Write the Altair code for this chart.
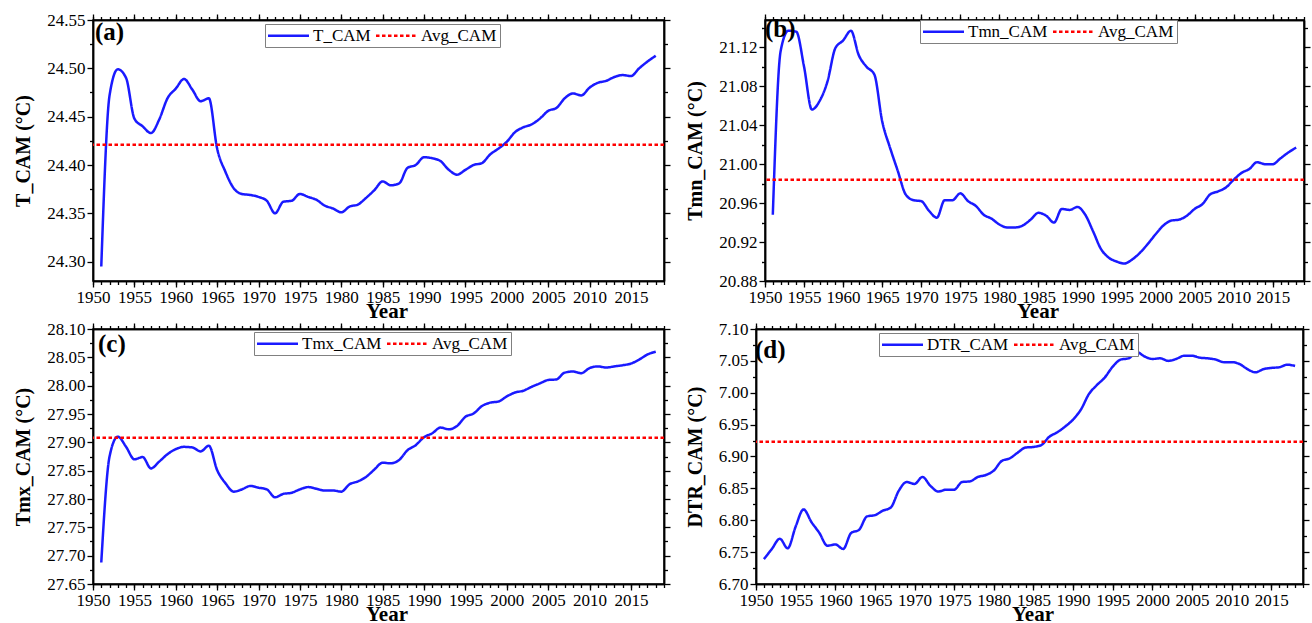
import altair as alt
import pandas as pd

years = list(range(1951, 2019))

t_cam = [24.295, 24.472, 24.499, 24.490, 24.448, 24.440, 24.433, 24.447, 24.469, 24.479,
         24.489, 24.478, 24.466, 24.469, 24.417, 24.393, 24.376, 24.370, 24.369, 24.367,
         24.363, 24.350, 24.362, 24.363, 24.370, 24.367, 24.364, 24.358, 24.355, 24.351,
         24.357, 24.359, 24.366, 24.374, 24.383, 24.379, 24.381, 24.397, 24.400, 24.408,
         24.407, 24.404, 24.395, 24.390, 24.395, 24.400, 24.402, 24.411, 24.417, 24.424,
         24.434, 24.439, 24.442, 24.448, 24.456, 24.459, 24.469, 24.474, 24.472, 24.480,
         24.485, 24.487, 24.491, 24.493, 24.492, 24.500, 24.507, 24.513]

tmn_cam = [20.948, 21.116, 21.137, 21.136, 21.100, 21.056, 21.065, 21.085, 21.119, 21.127,
           21.137, 21.112, 21.100, 21.092, 21.044, 21.017, 20.993, 20.969, 20.963, 20.962,
           20.952, 20.945, 20.963, 20.963, 20.970, 20.962, 20.957, 20.948, 20.944, 20.938,
           20.935, 20.935, 20.937, 20.943, 20.950, 20.947, 20.940, 20.954, 20.953, 20.956,
           20.948, 20.931, 20.913, 20.904, 20.900, 20.898, 20.902, 20.909, 20.918, 20.928,
           20.937, 20.942, 20.943, 20.947, 20.954, 20.959, 20.969, 20.972, 20.976, 20.984,
           20.991, 20.995, 21.002, 21.000, 21.000, 21.006, 21.012, 21.017]

tmx_cam = [27.688, 27.875, 27.910, 27.892, 27.870, 27.874, 27.854, 27.866, 27.879, 27.888,
           27.892, 27.891, 27.884, 27.894, 27.851, 27.828, 27.813, 27.817, 27.823, 27.820,
           27.817, 27.803, 27.809, 27.811, 27.817, 27.821, 27.818, 27.815, 27.815, 27.813,
           27.826, 27.831, 27.839, 27.852, 27.864, 27.863, 27.869, 27.886, 27.895, 27.909,
           27.916, 27.926, 27.923, 27.929, 27.945, 27.951, 27.964, 27.970, 27.972, 27.981,
           27.988, 27.991, 27.998, 28.004, 28.010, 28.011, 28.023, 28.025, 28.022, 28.031,
           28.034, 28.032, 28.034, 28.036, 28.039, 28.046, 28.055, 28.060]

dtr_cam = [6.739, 6.755, 6.771, 6.756, 6.790, 6.817, 6.797, 6.780, 6.760, 6.762,
           6.755, 6.780, 6.785, 6.806, 6.808, 6.815, 6.820, 6.846, 6.860, 6.857,
           6.868, 6.854, 6.845, 6.848, 6.848, 6.860, 6.861, 6.868, 6.871, 6.878,
           6.893, 6.897, 6.906, 6.914, 6.915, 6.918, 6.931, 6.938, 6.947, 6.958,
           6.974, 6.998, 7.012, 7.024, 7.041, 7.052, 7.054, 7.064, 7.057, 7.053,
           7.054, 7.050, 7.053, 7.058, 7.058, 7.055, 7.054, 7.052, 7.048, 7.048,
           7.045, 7.037, 7.032, 7.037, 7.039, 7.040, 7.044, 7.042]

avg_t, avg_tmn, avg_tmx, avg_dtr = 24.421, 20.984, 27.908, 6.923

x_major = list(range(1950, 2016, 5))
x_minor = list(range(1950, 2020))

ticks_a_major = [24.30, 24.35, 24.40, 24.45, 24.50, 24.55]
ticks_a_minor = [24.325, 24.375, 24.425, 24.475, 24.525]
ticks_b_major = [20.88, 20.92, 20.96, 21.00, 21.04, 21.08, 21.12]
ticks_b_minor = [20.90, 20.94, 20.98, 21.02, 21.06, 21.10, 21.14]
ticks_c_major = [27.65, 27.70, 27.75, 27.80, 27.85, 27.90, 27.95, 28.00, 28.05, 28.10]
ticks_c_minor = [27.675, 27.725, 27.775, 27.825, 27.875, 27.925, 27.975, 28.025, 28.075]
ticks_d_major = [6.70, 6.75, 6.80, 6.85, 6.90, 6.95, 7.00, 7.05, 7.10]
ticks_d_minor = [6.725, 6.775, 6.825, 6.875, 6.925, 6.975, 7.025, 7.075]

FONT = "Liberation Serif"
BLUE = "#1a1aff"
RED = "#ff0000"


def x_axis(orient, vals, size, labels, title_x=None):
    kw = dict(orient=orient, values=vals, tickSize=size, tickWidth=1.3, tickColor="black",
              labels=labels, domain=True, domainColor="black", domainWidth=1.5, grid=False)
    if labels:
        kw.update(format="d", labelFont=FONT, labelFontSize=17, labelColor="black",
                  labelPadding=2, labelOverlap=False, labelFlush=False,
                  titleFont=FONT, titleFontSize=21, titleFontWeight="bold",
                  titleColor="black", titlePadding=-5, titleX=title_x)
    return alt.Axis(**kw)


def y_axis(orient, vals, size, labels):
    kw = dict(orient=orient, values=vals, tickSize=size, tickWidth=1.3, tickColor="black",
              labels=labels, domain=True, domainColor="black", domainWidth=1.5, grid=False)
    if labels:
        kw.update(format=".2f", labelFont=FONT, labelFontSize=17, labelColor="black",
                  labelPadding=2, labelOverlap=False, labelFlush=False,
                  titleFont=FONT, titleFontSize=20, titleFontWeight="bold",
                  titleColor="black", titlePadding=13)
    return alt.Axis(**kw)


def panel(vals, avg, name, ytitle, ydom, ymaj, ymin, letter, w, h, legx, legy,
          lx, ly, title_dx):
    df = pd.DataFrame({"Year": years, "v": vals, "series": name})
    avg_df = pd.DataFrame({"v": [avg], "series": ["Avg_CAM"]})
    xs = alt.Scale(domain=[1950, 2019], nice=False, zero=False)
    ys = alt.Scale(domain=ydom, nice=False, zero=False)
    leg = alt.Legend(title=None, orient="none", legendX=legx, legendY=legy,
                     direction="horizontal", symbolType="M-4,0H4", symbolSize=105,
                     symbolOffset=12, symbolStrokeWidth=2.5, labelFont=FONT, labelFontSize=17,
                     labelColor="black", labelOffset=16, columnPadding=0, padding=3,
                     strokeColor="#808080", fillColor="white", labelLimit=200)
    color = alt.Color("series:N", scale=alt.Scale(domain=[name, "Avg_CAM"], range=[BLUE, RED]),
                      legend=leg)
    dash = alt.StrokeDash("series:N",
                          scale=alt.Scale(domain=[name, "Avg_CAM"], range=[[1, 0], [3.5, 2.5]]),
                          legend=leg)
    base = alt.Chart(df)
    line = base.mark_line(interpolate="monotone", strokeWidth=2.5).encode(
        x=alt.X("Year:Q", scale=xs, axis=x_axis("bottom", x_major, 6, True, w / 2 + title_dx),
                title="Year"),
        y=alt.Y("v:Q", scale=ys, axis=y_axis("left", ymaj, 6, True), title=ytitle),
        color=color, strokeDash=dash)
    g1 = base.mark_line(strokeOpacity=0).encode(
        x=alt.X("Year:Q", scale=xs, axis=x_axis("bottom", x_minor, 3.5, False), title=None),
        y=alt.Y("v:Q", scale=ys, axis=y_axis("left", ymin, 3.5, False), title=None))
    g2 = base.mark_line(strokeOpacity=0).encode(
        x=alt.X("Year:Q", scale=xs, axis=x_axis("top", x_major, 6, False), title=None),
        y=alt.Y("v:Q", scale=ys, axis=y_axis("right", ymaj, 6, False), title=None))
    g3 = base.mark_line(strokeOpacity=0).encode(
        x=alt.X("Year:Q", scale=xs, axis=x_axis("top", x_minor, 3.5, False), title=None),
        y=alt.Y("v:Q", scale=ys, axis=y_axis("right", ymin, 3.5, False), title=None))
    rule = alt.Chart(avg_df).mark_rule(strokeWidth=2.5).encode(
        y=alt.Y("v:Q", scale=ys, axis=None), color=color, strokeDash=dash)
    txt = alt.Chart(pd.DataFrame({"t": [letter]})).mark_text(
        font=FONT, fontSize=25, fontWeight="bold", align="left", baseline="alphabetic",
        color="black").encode(x=alt.value(lx), y=alt.value(ly), text="t:N")
    return alt.layer(line, g1, g2, g3, rule, txt).resolve_axis(
        x="independent", y="independent").properties(width=w, height=h)


pa = panel(t_cam, avg_t, "T_CAM", "T_CAM (°C)", [24.28, 24.55], ticks_a_major, ticks_a_minor,
           "(a)", 571, 261, 172, 4, 2, 20, 8)
pb = panel(tmn_cam, avg_tmn, "Tmn_CAM", "Tmn_CAM (°C)", [20.88, 21.148], ticks_b_major,
           ticks_b_minor, "(b)", 539, 261, 155, 0, 0, 17, 3)
pc = panel(tmx_cam, avg_tmx, "Tmx_CAM", "Tmx_CAM (°C)", [27.65, 28.10], ticks_c_major,
           ticks_c_minor, "(c)", 571, 255, 161, 3, 5, 23, 8)
pd_ = panel(dtr_cam, avg_dtr, "DTR_CAM", "DTR_CAM (°C)", [6.70, 7.10], ticks_d_major,
            ticks_d_minor, "(d)", 547, 255, 123, 4, -1, 29, 3)

row1 = alt.hconcat(pa, pb, spacing=101, bounds="flush").resolve_scale(
    color="independent", strokeDash="independent")
row2 = alt.hconcat(pc, pd_, spacing=92, bounds="flush").resolve_scale(
    color="independent", strokeDash="independent")

chart = alt.vconcat(row1, row2, spacing=-3).resolve_scale(
    color="independent", strokeDash="independent").properties(
    padding={"left": 13, "top": 10, "right": 0, "bottom": 0},
    background="white").configure_view(stroke="black", strokeWidth=1.5)

chart.save("out.html", embed_options={"renderer": "svg", "actions": False})
